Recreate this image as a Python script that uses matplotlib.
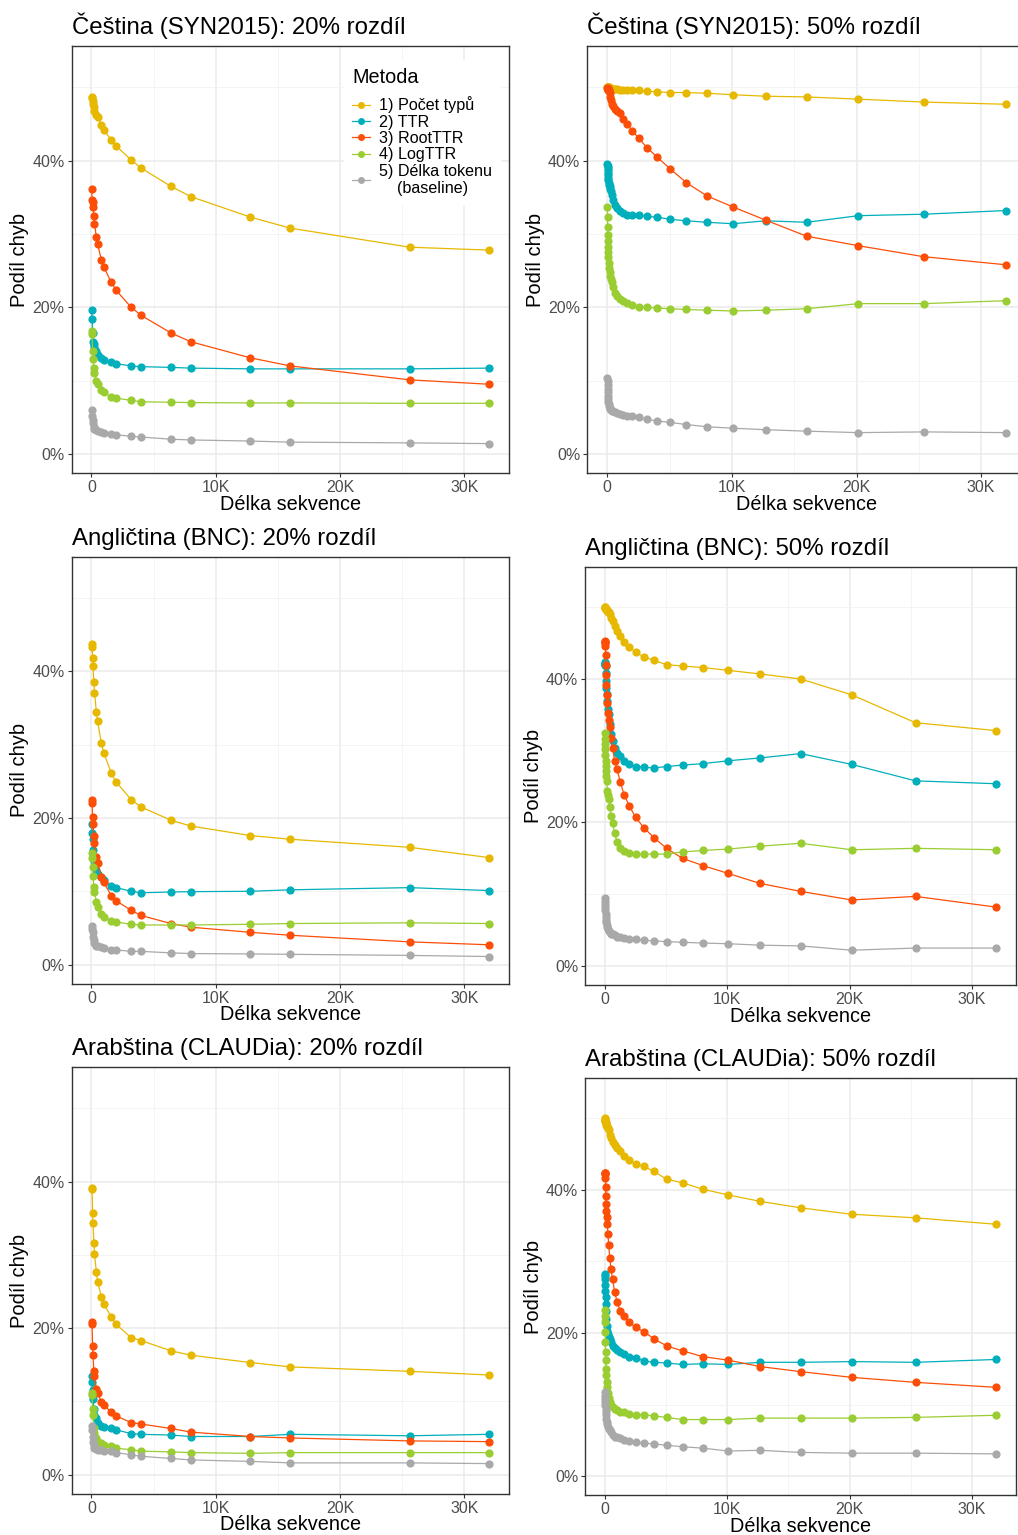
import matplotlib.pyplot as plt
from matplotlib.ticker import FixedLocator, FuncFormatter

plt.rcParams['font.family'] = ['Liberation Sans', 'DejaVu Sans']

W, H = 1018, 1535

# délky sekvencí (osa x)
x_left = [25, 50, 100, 125, 200, 250, 400, 500, 800, 1000, 1600, 2000, 3200, 4000,
          6400, 8000, 12800, 16000, 25600, 32000]
x_right = [20, 25, 31, 39, 50, 62, 79, 99, 125, 157, 198, 250, 315, 397, 500, 630, 794,
           1000, 1260, 1587, 2000, 2520, 3175, 4000, 5040, 6350, 8000, 10079, 12699,
           16000, 20159, 25398, 32000]

methods = ['1) Počet typů', '2) TTR', '3) RootTTR', '4) LogTTR',
           '5) Délka tokenu\n    (baseline)']
colors = ['#E7B800', '#00AFBB', '#FC4E07', '#9ACD32', '#A9A9A9']

# podíl chyb v % -- Čeština 20 %
cs20_typy = [48.7, 48.5, 48.1, 47.7, 47.3, 46.8, 46.3, 45.9, 44.9, 44.2, 42.8, 42.0, 40.1,
             39.0, 36.5, 35.1, 32.3, 30.8, 28.2, 27.8]
cs20_ttr = [19.6, 18.4, 16.5, 15.3, 15.0, 14.6, 14.0, 13.5, 13.1, 12.8, 12.5, 12.3, 12.0,
            11.9, 11.8, 11.7, 11.6, 11.6, 11.6, 11.7]
cs20_root = [36.2, 34.7, 34.3, 33.7, 32.4, 31.4, 29.6, 28.6, 26.5, 25.5, 23.4, 22.3, 20.0,
             18.9, 16.5, 15.3, 13.1, 12.0, 10.1, 9.5]
cs20_log = [16.7, 16.3, 14.1, 12.9, 11.7, 11.1, 9.9, 9.6, 8.7, 8.4, 7.8, 7.6, 7.3, 7.1,
            7.05, 7.0, 6.95, 6.95, 6.9, 6.9]
cs20_base = [6.0, 5.1, 4.6, 4.2, 3.7, 3.4, 3.2, 3.1, 3.0, 2.9, 2.7, 2.6, 2.4, 2.3, 2.0,
             1.9, 1.75, 1.6, 1.5, 1.4]

# Čeština 50 %
cs50_typy = [50.1, 50.1, 50.0, 50.0, 50.0, 50.0, 50.0, 50.0, 50.0, 49.9, 49.9, 49.9, 49.9,
             49.8, 49.8, 49.8, 49.8, 49.7, 49.7, 49.7, 49.6, 49.6, 49.5, 49.4, 49.3, 49.3,
             49.2, 49.0, 48.8, 48.7, 48.4, 48.0, 47.7]
cs50_ttr = [39.5, 39.3, 39.0, 38.7, 38.3, 38.0, 37.6, 37.4, 37.0, 36.7, 36.5, 36.2, 35.8,
            35.3, 34.7, 34.0, 33.5, 33.2, 32.8, 32.6, 32.6, 32.6, 32.4, 32.3, 32.0, 31.8,
            31.6, 31.4, 31.8, 31.6, 32.5, 32.7, 33.2]
cs50_root = [49.9, 49.9, 49.8, 49.8, 49.8, 49.8, 49.7, 49.7, 49.6, 49.5, 49.2, 48.7, 48.3,
             47.8, 47.4, 47.1, 46.8, 46.5, 45.7, 45.0, 44.1, 43.1, 41.8, 40.5, 38.9, 37.0,
             35.2, 33.7, 31.9, 29.7, 28.4, 26.9, 25.8]
cs50_log = [33.7, 32.3, 30.9, 29.8, 29.0, 28.2, 27.5, 26.8, 26.0, 25.4, 24.8, 24.3, 23.9,
            23.4, 22.8, 22.0, 21.5, 21.1, 20.8, 20.6, 20.3, 20.1, 20.0, 19.9, 19.8, 19.7,
            19.6, 19.5, 19.6, 19.8, 20.5, 20.5, 20.9]
cs50_base = [10.4, 9.9, 9.4, 8.9, 8.4, 7.9, 7.5, 7.1, 6.8, 6.5, 6.3, 6.1, 6.0, 5.9, 5.8,
             5.7, 5.6, 5.4, 5.3, 5.2, 5.1, 5.0, 4.7, 4.5, 4.3, 4.0, 3.7, 3.5, 3.3, 3.1,
             2.9, 3.0, 2.9]

# Angličtina 20 %
en20_typy = [43.7, 43.3, 41.8, 40.7, 38.5, 37.1, 34.5, 33.2, 30.2, 28.9, 26.1, 24.9, 22.5,
             21.5, 19.7, 18.9, 17.6, 17.1, 16.0, 14.6]
en20_ttr = [19.2, 18.0, 17.1, 15.6, 14.2, 13.5, 12.9, 12.3, 11.9, 11.6, 10.7, 10.5, 10.0,
            9.8, 9.9, 9.95, 10.0, 10.2, 10.5, 10.1]
en20_root = [22.5, 22.1, 20.2, 19.2, 17.6, 16.6, 14.7, 13.9, 12.0, 11.2, 9.4, 8.7, 7.4,
             6.7, 5.6, 5.1, 4.4, 4.0, 3.1, 2.7]
en20_log = [15.2, 14.5, 13.3, 12.1, 10.6, 9.9, 8.6, 7.9, 6.9, 6.5, 6.0, 5.8, 5.5, 5.4,
            5.4, 5.4, 5.5, 5.6, 5.7, 5.6]
en20_base = [5.3, 4.8, 4.4, 3.7, 3.3, 2.9, 2.6, 2.5, 2.4, 2.3, 2.0, 2.0, 1.8, 1.8, 1.6,
             1.5, 1.45, 1.4, 1.25, 1.1]

# Angličtina 50 %
en50_typy = [50.0, 50.0, 49.9, 49.9, 49.9, 49.8, 49.8, 49.7, 49.7, 49.6, 49.5, 49.4, 49.4,
             49.0, 48.5, 48.1, 47.4, 46.7, 46.0, 45.2, 44.5, 43.7, 43.1, 42.6, 42.0, 41.8,
             41.6, 41.2, 40.7, 40.0, 37.8, 33.9, 32.8]
en50_ttr = [42.3, 42.2, 42.1, 42.0, 41.9, 41.8, 40.9, 39.7, 38.8, 37.9, 36.9, 35.8, 35.1,
            33.7, 32.3, 31.4, 30.4, 29.7, 29.2, 28.6, 28.1, 27.8, 27.7, 27.6, 27.8, 28.0,
            28.2, 28.6, 29.0, 29.6, 28.1, 25.8, 25.4]
en50_root = [45.3, 45.2, 45.1, 45.0, 44.6, 43.4, 42.0, 40.6, 39.2, 37.8, 36.7, 35.3, 34.3,
             33.3, 31.8, 30.4, 28.6, 27.4, 25.6, 23.8, 22.3, 20.7, 19.3, 17.9, 16.4, 15.0,
             14.0, 12.9, 11.5, 10.4, 9.2, 9.7, 8.2]
en50_log = [32.5, 31.6, 30.9, 30.2, 29.4, 28.6, 27.9, 27.2, 26.5, 25.8, 24.4, 23.8, 23.3,
            22.1, 20.9, 19.9, 18.5, 17.3, 16.5, 16.0, 15.8, 15.6, 15.6, 15.6, 15.6, 15.9,
            16.1, 16.3, 16.7, 17.1, 16.2, 16.4, 16.2]
en50_base = [9.5, 9.1, 8.7, 8.2, 7.8, 7.3, 6.8, 6.4, 6.1, 5.7, 5.4, 5.1, 4.9, 4.7, 4.5,
             4.4, 4.3, 4.1, 4.0, 3.9, 3.8, 3.7, 3.6, 3.5, 3.4, 3.3, 3.2, 3.1, 2.9, 2.8,
             2.2, 2.5, 2.5]

# Arabština 20 %
ar20_typy = [39.1, 39.0, 35.7, 34.3, 31.6, 30.1, 27.7, 26.3, 24.3, 23.3, 21.5, 20.5, 18.7,
             18.3, 16.9, 16.3, 15.3, 14.7, 14.1, 13.6]
ar20_ttr = [13.4, 12.6, 11.5, 10.3, 8.9, 8.2, 7.7, 7.0, 6.6, 6.5, 6.3, 6.1, 5.6, 5.5, 5.4,
            5.2, 5.2, 5.5, 5.3, 5.5]
ar20_root = [20.9, 20.6, 17.5, 16.3, 14.2, 13.5, 11.7, 11.2, 9.9, 9.5, 8.5, 8.0, 7.1, 6.9,
             6.3, 5.8, 5.2, 5.0, 4.6, 4.5]
ar20_log = [11.2, 10.9, 9.0, 8.2, 6.4, 5.7, 5.0, 4.5, 4.3, 4.1, 3.9, 3.6, 3.4, 3.2, 3.1,
            3.0, 2.9, 3.0, 3.0, 3.0]
ar20_base = [6.7, 6.1, 5.2, 4.5, 4.1, 3.6, 3.5, 3.4, 3.3, 3.2, 3.2, 3.0, 2.7, 2.5, 2.2,
             2.0, 1.8, 1.6, 1.6, 1.5]

# Arabština 50 %
ar50_typy = [50.0, 49.9, 49.8, 49.7, 49.6, 49.5, 49.4, 49.3, 49.1, 49.0, 48.8, 48.6, 48.4,
             47.7, 47.2, 46.7, 46.3, 45.9, 45.4, 44.8, 44.2, 43.6, 43.3, 42.6, 41.5, 41.0,
             40.1, 39.3, 38.4, 37.5, 36.6, 36.1, 35.2]
ar50_ttr = [28.2, 27.9, 27.5, 26.7, 25.9, 25.0, 24.1, 23.1, 22.0, 21.0, 20.3, 19.9, 19.5,
            19.2, 18.8, 18.2, 17.9, 17.6, 17.3, 17.0, 16.7, 16.5, 16.1, 15.9, 15.8, 15.6,
            15.7, 15.6, 15.9, 15.9, 16.0, 15.9, 16.3]
ar50_root = [42.4, 42.4, 42.3, 42.2, 41.6, 40.4, 39.2, 38.0, 37.0, 36.2, 35.2, 33.8, 32.3,
             30.5, 28.9, 27.5, 25.8, 24.3, 23.1, 22.4, 21.5, 20.8, 20.2, 19.2, 18.2, 17.5,
             16.7, 16.2, 15.3, 14.6, 13.8, 13.1, 12.4]
ar50_log = [23.2, 22.4, 21.6, 20.1, 18.7, 17.3, 16.2, 15.0, 14.1, 13.1, 12.4, 11.6, 10.9,
            10.3, 9.9, 9.6, 9.4, 9.2, 9.0, 8.9, 8.7, 8.6, 8.6, 8.4, 8.2, 7.9, 7.9, 7.9,
            8.1, 8.1, 8.1, 8.2, 8.5]
ar50_base = [11.7, 11.2, 10.8, 10.3, 9.9, 9.4, 9.0, 8.5, 8.0, 7.6, 7.3, 6.9, 6.6, 6.4,
             6.2, 5.8, 5.5, 5.4, 5.3, 5.0, 4.9, 4.8, 4.6, 4.5, 4.3, 4.1, 3.9, 3.5, 3.6,
             3.3, 3.2, 3.2, 3.1]

panels = [
    ('Čeština (SYN2015): 20% rozdíl', x_left,
     [cs20_typy, cs20_ttr, cs20_root, cs20_log, cs20_base], (71.5, 46, 509, 473.3)),
    ('Čeština (SYN2015): 50% rozdíl', x_right,
     [cs50_typy, cs50_ttr, cs50_root, cs50_log, cs50_base], (587.3, 46, 1026, 473.3)),
    ('Angličtina (BNC): 20% rozdíl', x_left,
     [en20_typy, en20_ttr, en20_root, en20_log, en20_base], (71.5, 556.7, 509, 984)),
    ('Angličtina (BNC): 50% rozdíl', x_right,
     [en50_typy, en50_ttr, en50_root, en50_log, en50_base], (585.3, 566.7, 1016, 985)),
    ('Arabština (CLAUDia): 20% rozdíl', x_left,
     [ar20_typy, ar20_ttr, ar20_root, ar20_log, ar20_base], (71.5, 1067, 509, 1494)),
    ('Arabština (CLAUDia): 50% rozdíl', x_right,
     [ar50_typy, ar50_ttr, ar50_root, ar50_log, ar50_base], (585.3, 1078, 1016, 1495)),
]

fig = plt.figure(figsize=(W / 100, H / 100), dpi=100)

for i, (title, xs, series, box) in enumerate(panels):
    x0, y0, x1, y1 = box
    ax = fig.add_axes([x0 / W, 1 - y1 / H, (x1 - x0) / W, (y1 - y0) / H])
    for ys, col, lab in zip(series, colors, methods):
        ax.plot(xs, ys, color=col, lw=0.9, marker='o', ms=4.9, mec=col, mfc=col,
                label=lab)
    ax.set_xlim(-1600, 33600)
    ax.set_ylim(-2.65, 55.65)
    ax.xaxis.set_major_locator(FixedLocator([0, 10000, 20000, 30000]))
    ax.xaxis.set_minor_locator(FixedLocator([5000, 15000, 25000]))
    ax.yaxis.set_major_locator(FixedLocator([0, 20, 40]))
    ax.yaxis.set_minor_locator(FixedLocator([10, 30, 50]))
    ax.xaxis.set_major_formatter(FuncFormatter(lambda v, p: '0' if v == 0 else f'{int(v / 1000)}K'))
    ax.yaxis.set_major_formatter(FuncFormatter(lambda v, p: f'{int(v)}%'))
    ax.grid(which='major', color='#EBEBEB', lw=1.1)
    ax.grid(which='minor', color='#F2F2F2', lw=0.6)
    ax.set_axisbelow(True)
    for s in ax.spines.values():
        s.set_color('#333333')
        s.set_linewidth(1.0)
    ax.tick_params(which='major', length=3, width=0.8, color='#333333',
                   labelcolor='#4D4D4D', labelsize=11.5, pad=2)
    ax.tick_params(which='minor', length=0)

    fig.text(x0 / W, 1 - (y0 - 11.7) / H, title, fontsize=17.3, ha='left',
             va='baseline', color='black')
    fig.text((x0 + x1) / 2 / W, 1 - (y1 + 31) / H, 'Délka sekvence', fontsize=14.3,
             ha='center', va='center')
    fig.text((x0 - 51.5) / W, 1 - (y0 + y1) / 2 / H, 'Podíl chyb', fontsize=14.5,
             rotation=90, ha='center', va='center')

    if i == 0:
        leg = ax.legend(title='Metoda', loc='upper left',
                        bbox_to_anchor=(336 / W, 1 - 52 / H),
                        bbox_transform=fig.transFigure, fontsize=11.6,
                        title_fontsize=14.3, frameon=True, fancybox=False,
                        edgecolor='white', facecolor='white', framealpha=1,
                        handlelength=1.1, handletextpad=0.55, labelspacing=0.08,
                        borderpad=0.5, alignment='left')
        leg._legend_box.sep = 6.7
        for h in leg.legend_handles:
            h.set_markersize(4)

fig.savefig('out.png', dpi=100)
